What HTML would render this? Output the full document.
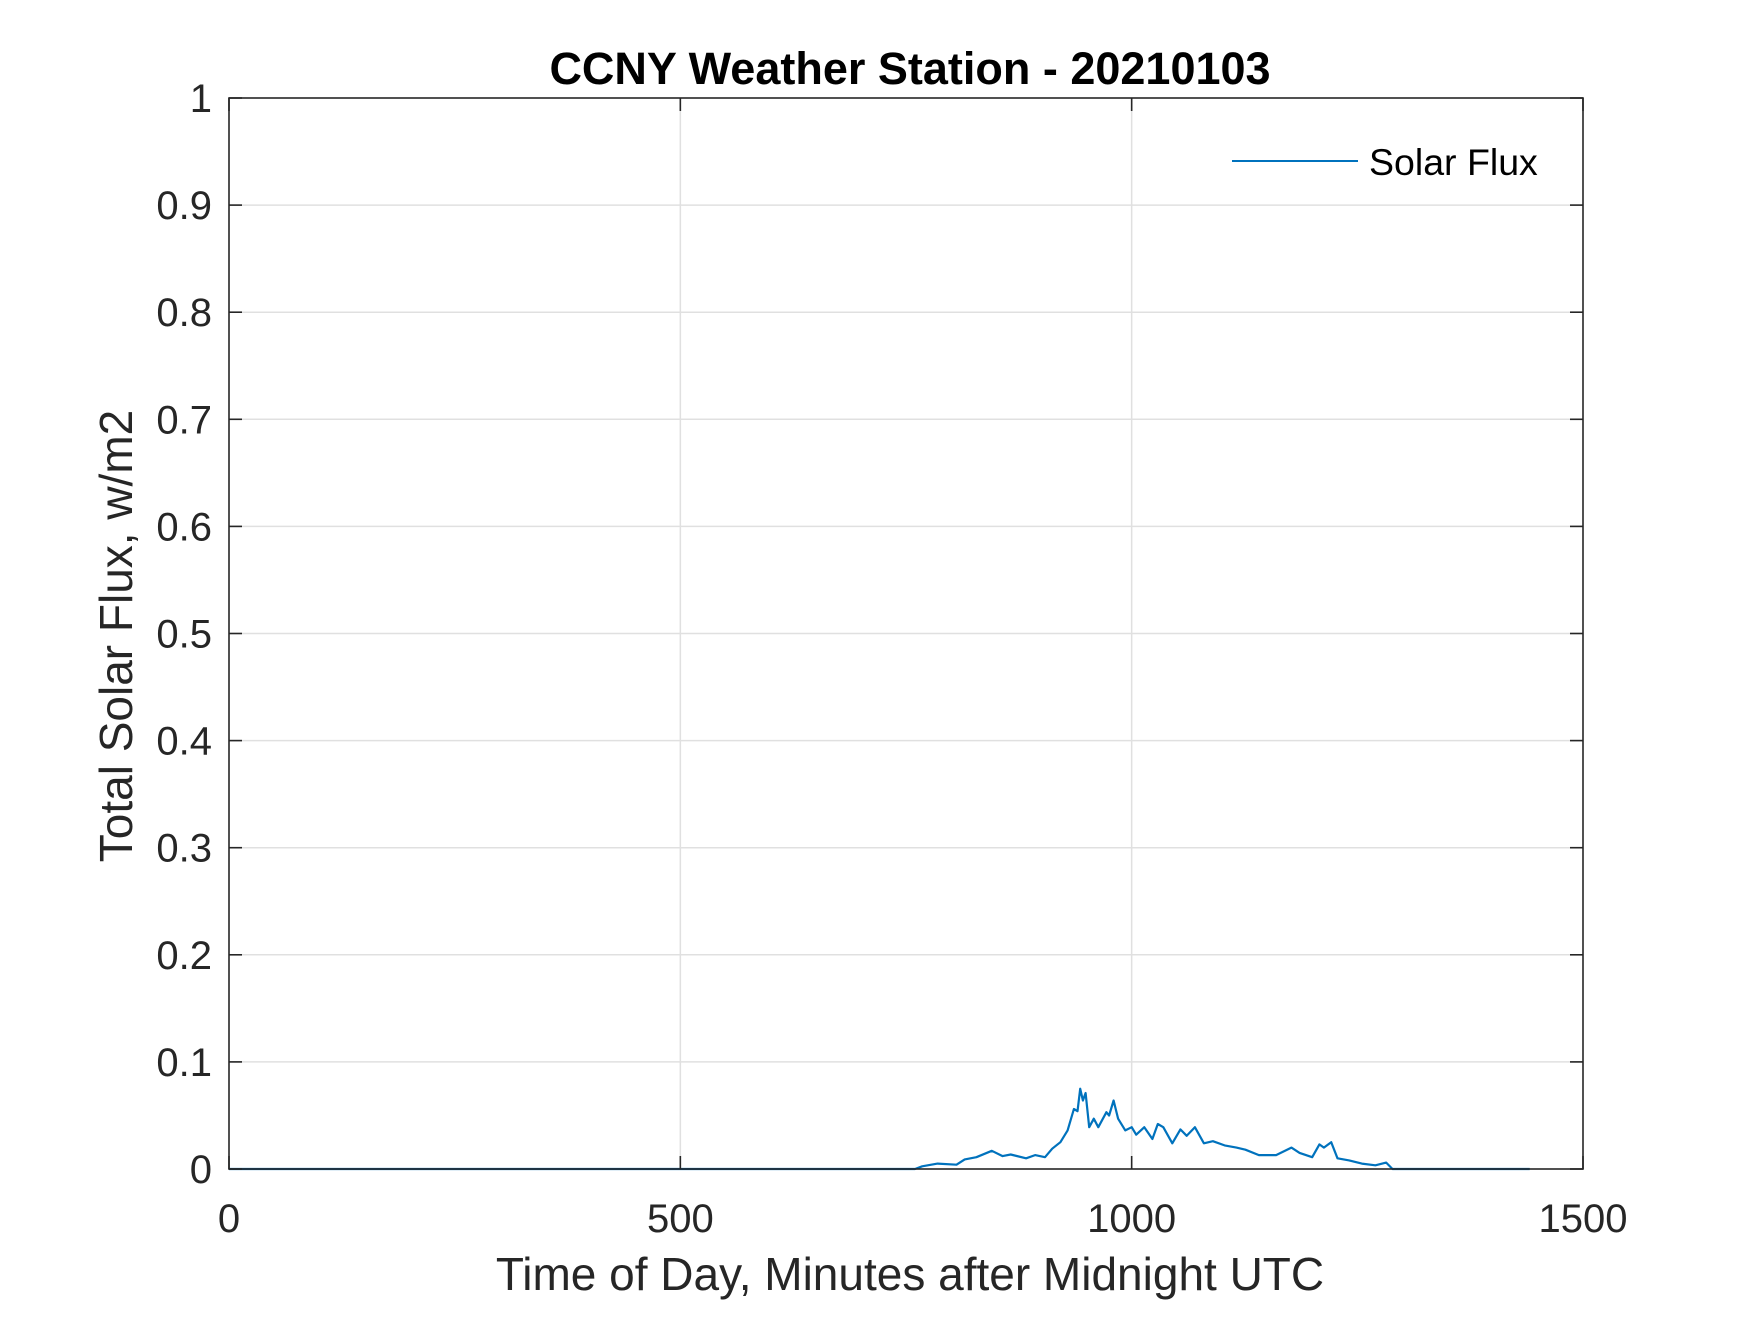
<!DOCTYPE html>
<html><head><meta charset="utf-8"><style>
body{margin:0;background:#fff;}
svg text{font-family:"Liberation Sans",Arial,sans-serif;}
</style></head><body>
<svg id="chart" width="1750" height="1313" viewBox="0 0 1750 1313" xmlns="http://www.w3.org/2000/svg">
<rect width="1750" height="1313" fill="#fff"/>
<g id="grid"></g>
<g id="series"></g>
<rect x="229" y="98" width="1354" height="1071" fill="none" stroke="#262626" stroke-width="1.6"/>
<g id="ticks"></g>
<text x="910" y="84" text-anchor="middle" font-size="45" font-weight="bold" fill="#000">CCNY Weather Station - 20210103</text>
<text x="910" y="1290" text-anchor="middle" font-size="46" fill="#262626">Time of Day, Minutes after Midnight UTC</text>
<text transform="translate(132,636) rotate(-90)" text-anchor="middle" font-size="46" fill="#262626">Total Solar Flux, w/m2</text>
<g>
<line x1="1232" y1="161" x2="1358" y2="161" stroke="#0072BD" stroke-width="2"/>
<text x="1369" y="175" font-size="37.5" fill="#000">Solar Flux</text>
</g>
</svg>
<script>
const xTicks=[0,500,1000,1500];
const yTicks=[0,0.1,0.2,0.3,0.4,0.5,0.6,0.7,0.8,0.9,1];
const yTickLabels=["0","0.1","0.2","0.3","0.4","0.5","0.6","0.7","0.8","0.9","1"];
const minutes=[0,760,768,785,806,815,828,845,857,866,883,893,904,912,921,929,936,940,943,946,949,953,958,963,972,975,980,985,993,1000,1005,1014,1023,1029,1035,1045,1054,1061,1070,1080,1090,1103,1116,1126,1141,1160,1177,1186,1200,1208,1213,1221,1228,1241,1255,1270,1282,1289,1441];
const flux=[0,0,0.0025,0.005,0.004,0.009,0.011,0.017,0.012,0.0135,0.010,0.013,0.011,0.019,0.025,0.036,0.056,0.054,0.075,0.064,0.071,0.039,0.047,0.039,0.053,0.050,0.064,0.047,0.036,0.039,0.032,0.039,0.028,0.042,0.039,0.024,0.037,0.031,0.039,0.024,0.026,0.022,0.020,0.018,0.013,0.013,0.020,0.015,0.011,0.023,0.020,0.025,0.010,0.008,0.005,0.0035,0.006,0,0];
const L=229,R=1583,T=98,B=1169;
const xs=v=>L+(v-0)/1500*(R-L);
const ys=v=>B-(v-0)/1*(B-T);
const NS="http://www.w3.org/2000/svg";
const grid=document.getElementById('grid'),ticks=document.getElementById('ticks'),series=document.getElementById('series');
function mk(tag,attrs,parent){const e=document.createElementNS(NS,tag);for(const k in attrs)e.setAttribute(k,attrs[k]);parent.appendChild(e);return e;}
xTicks.forEach((t,i)=>{
  const x=xs(t);
  if(i>0&&i<xTicks.length-1){const g=mk('line',{x1:x,y1:T,x2:x,y2:B,stroke:'#e0e0e0','stroke-width':1.5},grid);
  
  }
  const a=mk('line',{x1:x,y1:B,x2:x,y2:B-13,stroke:'#262626','stroke-width':1.6},ticks);
  
  
  const b=mk('line',{x1:x,y1:T,x2:x,y2:T+13,stroke:'#262626','stroke-width':1.6},ticks);
  
  
  const tx=mk('text',{x:x,y:1232,'text-anchor':'middle','font-size':40,fill:'#262626'},ticks);
  tx.textContent=String(t);
  
  
});
yTicks.forEach((t,i)=>{
  const y=ys(t);
  if(i>0&&i<yTicks.length-1){const g=mk('line',{x1:L,y1:y,x2:R,y2:y,stroke:'#e0e0e0','stroke-width':1.5},grid);
  
  }
  const a=mk('line',{x1:L,y1:y,x2:L+13,y2:y,stroke:'#262626','stroke-width':1.6},ticks);
  
  
  const b=mk('line',{x1:R,y1:y,x2:R-13,y2:y,stroke:'#262626','stroke-width':1.6},ticks);
  
  
  const tx=mk('text',{x:212,y:y+14,'text-anchor':'end','font-size':40,fill:'#262626'},ticks);
  tx.textContent=yTickLabels[i];
  
  
});
const pts=minutes.map((m,i)=>xs(m).toFixed(1)+','+ys(flux[i]).toFixed(1)).join(' ');
const pl=mk('polyline',{points:pts,fill:'none',stroke:'#0072BD','stroke-width':2.2,'stroke-linejoin':'round'},series);


</script>
</body></html>
